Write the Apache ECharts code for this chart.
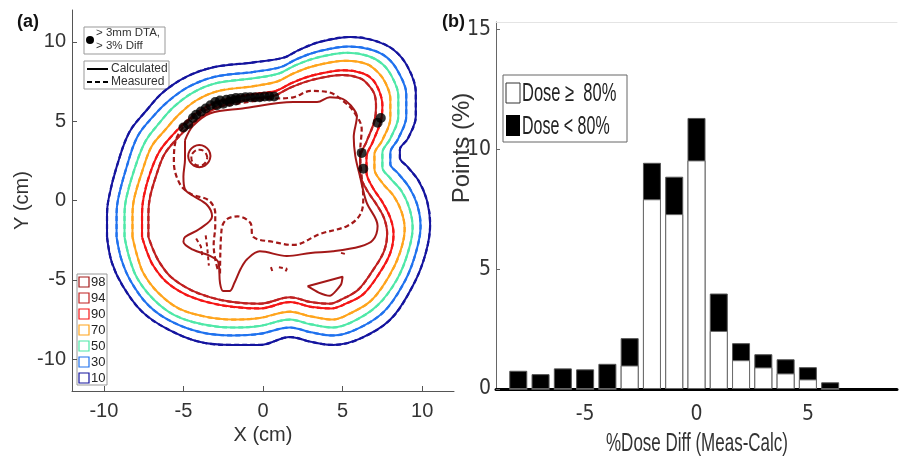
<!DOCTYPE html>
<html>
<head>
<meta charset="utf-8">
<title>Isodose comparison</title>
<script src="https://cdn.jsdelivr.net/npm/echarts@6/dist/echarts.min.js"></script>
<style>
  html, body { margin: 0; padding: 0; background: #fff; }
  #main { width: 899px; height: 460px; }
</style>
</head>
<body>
<div id="main"></div>
<script>
// ---- panel (a): isodose contours, cm ----
var isoLevels = ['98', '94', '90', '70', '50', '30', '10'];
var isoColors = ['#a31818', '#c02020', '#f51616', '#ffa41c', '#4fe8a8', '#2072ee', '#14149e'];

var iso10 = [[-9.8,-2.3],[-9.8,-0.9],[-9.7,0.1],[-9.2,2.1],[-8.4,4.3],[-7.3,5.7],[-6.3,6.8],[-4.8,7.8],[-3.1,8.4],[-0.6,8.7],[1.3,9.0],[2.3,9.5],[3.6,10.0],[5.5,10.3],[6.9,10.1],[8.2,9.5],[9.1,8.4],[9.6,6.8],[9.6,5.3],[9.1,3.9],[8.6,3.2],[8.6,2.7],[9.1,2.1],[9.8,1.2],[10.3,0.0],[10.5,-1.5],[10.2,-3.4],[9.4,-5.4],[8.0,-7.5],[6.1,-8.7],[4.4,-9.1],[3.0,-8.9],[1.7,-8.6],[-0.2,-9.1],[-1.9,-9.1],[-4.0,-8.9],[-6.0,-8.1],[-7.6,-7.0],[-8.8,-5.4],[-9.5,-3.9],[-9.8,-2.3]];
var iso30 = [[-9.2,-2.3],[-9.2,-0.9],[-9.1,0.1],[-8.6,2.0],[-7.9,4.0],[-6.9,5.3],[-5.9,6.3],[-4.6,7.2],[-3.0,7.8],[-0.6,8.1],[1.1,8.4],[2.1,8.9],[3.5,9.4],[5.4,9.7],[6.8,9.5],[7.8,9.0],[8.5,8.1],[9.0,6.7],[9.0,5.3],[8.5,3.9],[8.0,3.0],[8.0,2.3],[8.5,1.7],[9.2,0.8],[9.7,-0.3],[9.9,-1.6],[9.6,-3.3],[8.9,-5.1],[7.6,-7.0],[5.9,-8.1],[4.4,-8.5],[3.0,-8.3],[1.7,-8.0],[-0.2,-8.4],[-1.9,-8.5],[-3.9,-8.3],[-5.8,-7.6],[-7.2,-6.6],[-8.3,-5.1],[-8.9,-3.7],[-9.2,-2.3]];
var iso50 = [[-8.7,-2.3],[-8.7,-0.9],[-8.6,0.1],[-8.1,1.9],[-7.4,3.7],[-6.5,4.9],[-5.6,5.9],[-4.4,6.8],[-2.9,7.4],[-0.6,7.7],[1.0,8.0],[2.0,8.5],[3.4,9.0],[5.3,9.3],[6.6,9.1],[7.5,8.6],[8.1,7.8],[8.5,6.6],[8.5,5.3],[8.0,3.9],[7.5,3.0],[7.5,2.1],[8.0,1.4],[8.7,0.6],[9.2,-0.5],[9.4,-1.7],[9.1,-3.3],[8.4,-5.0],[7.2,-6.6],[5.7,-7.6],[4.4,-8.0],[3.0,-7.8],[1.7,-7.5],[-0.2,-7.9],[-1.9,-8.0],[-3.8,-7.8],[-5.6,-7.2],[-6.9,-6.2],[-7.9,-4.9],[-8.4,-3.6],[-8.7,-2.3]];
var iso70 = [[-8.2,-2.3],[-8.2,-0.9],[-8.1,0.1],[-7.6,1.8],[-7.0,3.4],[-6.1,4.5],[-5.3,5.4],[-4.2,6.3],[-2.8,6.9],[-0.6,7.2],[0.9,7.5],[1.9,8.0],[3.3,8.5],[5.2,8.8],[6.5,8.6],[7.2,8.1],[7.7,7.4],[8.0,6.4],[8.0,5.2],[7.5,3.8],[7.0,2.9],[7.0,2.0],[7.5,1.1],[8.2,0.3],[8.7,-0.7],[8.9,-1.8],[8.6,-3.3],[7.9,-4.8],[6.8,-6.3],[5.5,-7.1],[4.4,-7.5],[3.0,-7.3],[1.7,-7.0],[-0.2,-7.4],[-1.9,-7.5],[-3.7,-7.3],[-5.3,-6.8],[-6.6,-5.8],[-7.5,-4.6],[-7.9,-3.5],[-8.2,-2.3]];
var iso90 = [[-7.6,-2.3],[-7.6,-0.9],[-7.5,0.2],[-7.1,1.7],[-6.5,3.1],[-5.7,4.1],[-4.9,4.9],[-3.9,5.7],[-2.6,6.3],[-0.6,6.7],[0.8,6.9],[1.8,7.4],[3.2,7.9],[5.1,8.2],[6.3,8.0],[6.9,7.6],[7.3,6.9],[7.5,6.0],[7.4,5.0],[6.9,3.7],[6.5,2.7],[6.5,1.8],[6.9,0.8],[7.5,-0.1],[8.0,-1.1],[8.2,-2.1],[8.0,-3.3],[7.3,-4.6],[6.3,-5.9],[5.2,-6.5],[4.3,-6.8],[3.0,-6.7],[1.7,-6.4],[-0.2,-6.8],[-1.9,-6.7],[-3.5,-6.4],[-4.9,-5.9],[-6.1,-5.1],[-6.9,-4.1],[-7.3,-3.2],[-7.6,-2.3]];
var iso94 = [[-7.2,-2.3],[-7.2,-0.9],[-7.1,0.2],[-6.7,1.6],[-6.2,2.9],[-5.4,3.9],[-4.6,4.7],[-3.7,5.4],[-2.5,6.0],[-0.6,6.4],[0.7,6.6],[1.7,7.1],[3.1,7.6],[5.0,7.9],[6.1,7.7],[6.6,7.3],[7.0,6.7],[7.1,5.9],[7.0,5.0],[6.5,3.7],[6.1,2.7],[6.1,1.7],[6.5,0.7],[7.1,-0.2],[7.6,-1.1],[7.8,-2.1],[7.6,-3.2],[6.9,-4.4],[6.0,-5.6],[5.0,-6.2],[4.2,-6.5],[3.0,-6.4],[1.7,-6.1],[-0.2,-6.5],[-1.9,-6.4],[-3.3,-6.1],[-4.6,-5.6],[-5.8,-4.8],[-6.5,-3.9],[-6.9,-3.1],[-7.2,-2.3]];
var iso98 = [[-4.9,3.8],[-4.4,4.7],[-3.3,5.5],[-1.3,5.8],[1.9,6.2],[3.4,6.2],[4.2,6.5],[5.0,6.4],[5.5,6.0],[5.9,5.3],[5.7,4.0],[5.8,2.8],[6.1,1.5],[6.5,-0.1],[7.2,-1.6],[6.9,-2.5],[6.1,-2.9],[4.4,-3.2],[3.0,-3.3],[1.5,-3.5],[-0.2,-3.2],[-1.0,-3.7],[-1.4,-4.3],[-1.8,-5.2],[-2.1,-5.7],[-2.5,-5.7],[-2.7,-5.2],[-2.8,-3.9],[-3.3,-3.5],[-4.4,-3.1],[-5.0,-2.6],[-4.9,-2.3],[-4.0,-1.8],[-3.2,-1.0],[-3.5,-0.3],[-4.4,0.3],[-4.9,0.7],[-5.0,1.5],[-4.9,2.6],[-4.9,3.8]];
var iso98Loop = [[-3.3,2.8],[-3.4,3.15],[-3.65,3.4],[-4.0,3.5],[-4.35,3.4],[-4.6,3.15],[-4.7,2.8],[-4.6,2.45],[-4.35,2.2],[-4.0,2.1],[-3.65,2.2],[-3.4,2.45],[-3.3,2.8]];
var iso98Island = [[2.8,-5.4],[5.0,-4.8],[4.9,-5.3],[4.2,-6.0],[3.5,-5.8],[2.8,-5.4]];
var iso98Meas = [[-2.7,-4.6],[-2.6,-1.8],[-2.3,-1.2],[-1.6,-1.0],[-0.8,-1.4],[-0.6,-2.3],[0.6,-2.6],[1.9,-2.8],[3.6,-2.1],[5.3,-1.6],[6.1,-0.9],[6.3,0.1],[6.2,1.5],[6.1,3.0],[6.2,4.5],[5.7,5.6],[5.0,6.3],[4.2,6.8],[3.0,6.9],[1.9,6.5],[0.4,6.4],[-1.6,6.1],[-3.3,5.8],[-4.3,5.3],[-5.1,4.5],[-5.5,3.7],[-5.6,2.4],[-5.2,1.0],[-4.5,0.4],[-3.4,0.0],[-3.0,-0.8],[-3.0,-1.6],[-3.1,-2.8],[-3.0,-3.7],[-2.8,-4.5]];
var iso98MeasLoop = [[-3.5,2.7],[-3.65,3.05],[-4.0,3.2],[-4.35,3.05],[-4.5,2.7],[-4.35,2.35],[-4.0,2.2],[-3.65,2.35],[-3.5,2.7]];
var iso98MeasBits = [[[0.5,-4.2],[0.6,-4.5]], [[1.0,-4.2],[1.5,-4.3],[1.4,-4.5]], [[4.9,-3.3],[5.3,-3.4]], [[-4.2,-2.4],[-3.9,-2.9],[-3.8,-3.6]], [[-3.6,-2.2],[-3.5,-3.0],[-3.4,-4.1]]];
var failPoints = [[-5.0,4.6],[-4.7,4.8],[-4.4,5.2],[-4.2,5.4],[-3.9,5.6],[-3.6,5.8],[-3.3,6.0],[-3.0,6.2],[-2.9,6.0],[-2.7,6.3],[-2.5,6.1],[-2.3,6.35],[-2.1,6.2],[-2.0,6.4],[-1.7,6.45],[-1.7,6.3],[-1.4,6.45],[-1.1,6.5],[-0.8,6.5],[-0.5,6.5],[-0.2,6.5],[0.1,6.55],[0.4,6.55],[0.7,6.55],[7.4,5.2],[7.2,4.9],[6.2,3.0],[6.3,2.0]];
var xTicksA = [-10, -5, 0, 5, 10];
var yTicksA = [-10, -5, 0, 5, 10];

// ---- panel (b): histogram of dose difference ----
var binCenters = [-8, -7, -6, -5, -4, -3, -2, -1, 0, 1, 2, 3, 4, 5, 6];
var doseHigh = [0, 0, 0, 0, 0, 0.98, 7.91, 7.29, 9.53, 2.42, 1.20, 0.90, 0.65, 0.40, 0];
var doseLow = [0.76, 0.62, 0.86, 0.82, 1.05, 1.14, 1.52, 1.56, 1.77, 1.56, 0.71, 0.55, 0.59, 0.51, 0.28];
var xTicksB = [-5, 0, 5];
var yTicksB = [0, 5, 10, 15];

var sans = "'Liberation Sans', Arial, sans-serif";
var narrow = "'Liberation Sans Narrow', 'DejaVu Sans Condensed', sans-serif";

var calcContours = [iso98, iso94, iso90, iso70, iso50, iso30, iso10];
// measured curves overlay the calculated ones for the outer levels
var measContours = [iso98Meas, iso94, iso90, iso70, iso50, iso30, iso10];

var series = [];
for (var i = calcContours.length - 1; i >= 0; i--) {
    series.push({
        type: 'line', xAxisIndex: 0, yAxisIndex: 0,
        data: calcContours[i], showSymbol: false, smooth: 0.35,
        lineStyle: { color: isoColors[i], width: 2 }
    });
    series.push({
        type: 'line', xAxisIndex: 0, yAxisIndex: 0,
        data: measContours[i], showSymbol: false, smooth: 0.35,
        lineStyle: { color: isoColors[i], width: 2.2, type: [5, 3] }
    });
}
series.push({
    type: 'line', xAxisIndex: 0, yAxisIndex: 0, data: iso98Loop,
    showSymbol: false, smooth: 0.5, lineStyle: { color: isoColors[0], width: 2 }
});
series.push({
    type: 'line', xAxisIndex: 0, yAxisIndex: 0, data: iso98MeasLoop,
    showSymbol: false, smooth: 0.5, lineStyle: { color: isoColors[0], width: 2, type: [5, 3] }
});
iso98MeasBits.forEach(function (bit) {
    series.push({
        type: 'line', xAxisIndex: 0, yAxisIndex: 0, data: bit,
        showSymbol: false, lineStyle: { color: isoColors[0], width: 2, type: [4, 3] }
    });
});
series.push({
    type: 'line', xAxisIndex: 0, yAxisIndex: 0, data: iso98Island,
    showSymbol: false, smooth: 0.2, lineStyle: { color: isoColors[0], width: 2 }
});
series.push({
    type: 'scatter', xAxisIndex: 0, yAxisIndex: 0, data: failPoints,
    symbolSize: 10, itemStyle: { color: '#000' }, z: 5
});
// full bar height (both dose groups) in black, the >= 80% part drawn over it in white
series.push({
    type: 'bar', xAxisIndex: 1, yAxisIndex: 1, barWidth: 18, barGap: '-100%',
    data: binCenters.map(function (x, i) { return [x, doseHigh[i] + doseLow[i]]; }),
    itemStyle: { color: '#000', borderColor: '#555', borderWidth: 1 }, z: 2
});
series.push({
    type: 'bar', xAxisIndex: 1, yAxisIndex: 1, barWidth: 18, barGap: '-100%',
    data: binCenters.map(function (x, i) { return [x, doseHigh[i]]; }),
    itemStyle: { color: '#fff', borderColor: '#6a6a6a', borderWidth: 1 }, z: 3
});

// legend pieces (drawn as graphics, like the MATLAB boxes)
var graphics = [
    { type: 'text', x: 17, y: 22, style: { text: '(a)', font: 'bold 18px ' + sans, fill: '#111', textVerticalAlign: 'middle' } },
    { type: 'text', x: 442, y: 22, style: { text: '(b)', font: 'bold 18px ' + sans, fill: '#111', textVerticalAlign: 'middle' } },
    { type: 'rect', shape: { x: 84, y: 27, width: 81, height: 27 }, style: { fill: '#fff', stroke: '#999', lineWidth: 1 } },
    { type: 'circle', shape: { cx: 90, cy: 40, r: 4 }, style: { fill: '#000' } },
    { type: 'text', x: 96, y: 33, style: { text: '> 3mm DTA,', font: '11.5px ' + sans, fill: '#333', textVerticalAlign: 'middle' } },
    { type: 'text', x: 96, y: 46, style: { text: '> 3% Diff', font: '11.5px ' + sans, fill: '#333', textVerticalAlign: 'middle' } },
    { type: 'rect', shape: { x: 84, y: 61, width: 85, height: 28 }, style: { fill: '#fff', stroke: '#999', lineWidth: 1 } },
    { type: 'line', shape: { x1: 87, y1: 69, x2: 108, y2: 69 }, style: { stroke: '#000', lineWidth: 2 } },
    { type: 'line', shape: { x1: 87, y1: 82, x2: 108, y2: 82 }, style: { stroke: '#000', lineWidth: 2, lineDash: [5, 3] } },
    { type: 'text', x: 111, y: 69, style: { text: 'Calculated', font: '12px ' + sans, fill: '#333', textVerticalAlign: 'middle' } },
    { type: 'text', x: 111, y: 82, style: { text: 'Measured', font: '12px ' + sans, fill: '#333', textVerticalAlign: 'middle' } },
    { type: 'rect', shape: { x: 77, y: 274, width: 30, height: 111 }, style: { fill: '#fff', stroke: '#999', lineWidth: 1 } },
    { type: 'rect', shape: { x: 503, y: 75, width: 124, height: 67 }, style: { fill: '#fff', stroke: '#666', lineWidth: 1 } },
    { type: 'rect', shape: { x: 506, y: 83, width: 14, height: 20 }, style: { fill: '#fff', stroke: '#333', lineWidth: 1 } },
    { type: 'rect', shape: { x: 506, y: 115, width: 14, height: 21 }, style: { fill: '#000' } },
    { type: 'text', x: 522, y: 94, scaleX: 0.66, style: { text: 'Dose \u2265  80%', font: '25px ' + sans, fill: '#222', textVerticalAlign: 'middle' } },
    { type: 'text', x: 522, y: 127, scaleX: 0.64, style: { text: 'Dose < 80%', font: '25px ' + sans, fill: '#222', textVerticalAlign: 'middle' } },
    { type: 'text', x: 697, y: 444, scaleX: 0.68, style: { text: '%Dose Diff (Meas-Calc)', font: '25px ' + sans, fill: '#333', textAlign: 'center', textVerticalAlign: 'middle' } },
    { type: 'text', x: 462, y: 148, rotation: Math.PI / 2, style: { text: 'Points (%)', font: '24px ' + sans, fill: '#333', textAlign: 'center', textVerticalAlign: 'middle' } }
];
isoLevels.forEach(function (lv, i) {
    graphics.push({ type: 'rect', shape: { x: 79, y: 277 + 16 * i, width: 10, height: 10 }, style: { fill: 'none', stroke: isoColors[i], lineWidth: 1.2 } });
    graphics.push({ type: 'text', x: 91, y: 282.5 + 16 * i, style: { text: lv, font: '13px ' + sans, fill: '#222', textVerticalAlign: 'middle' } });
});

var option = {
    animation: false,
    backgroundColor: '#fff',
    grid: [
        { left: 72, top: 10, width: 382, height: 381 },
        { left: 496, top: 22, width: 401, height: 367 }
    ],
    xAxis: [{
        type: 'value', gridIndex: 0, min: -12, max: 12,
        name: 'X (cm)', nameLocation: 'middle', nameGap: 32,
        nameTextStyle: { fontSize: 20, color: '#333', fontFamily: sans },
        axisLine: { onZero: false, lineStyle: { color: '#555', width: 1 } },
        axisTick: { inside: true, length: 5, customValues: xTicksA, lineStyle: { color: '#555' } },
        axisLabel: { customValues: xTicksA, fontSize: 20, color: '#333', margin: 10, fontFamily: sans },
        splitLine: { show: false }
    }, {
        type: 'value', gridIndex: 1, min: -9, max: 9,
        axisLine: { onZero: false, lineStyle: { color: '#000', width: 3 } },
        axisTick: { inside: true, length: 5, customValues: xTicksB, lineStyle: { color: '#888' } },
        axisLabel: { customValues: xTicksB, fontSize: 21, color: '#333', margin: 15, fontFamily: narrow },
        splitLine: { show: false }
    }, {
        type: 'value', gridIndex: 1, min: -9, max: 9, position: 'top',
        axisLine: { onZero: false, lineStyle: { color: '#e4e4e4', width: 1 } },
        axisTick: { show: false }, axisLabel: { show: false }, splitLine: { show: false }
    }],
    yAxis: [{
        type: 'value', gridIndex: 0, min: -12, max: 12,
        name: 'Y (cm)', nameLocation: 'middle', nameGap: 40,
        nameTextStyle: { fontSize: 20, color: '#333', fontFamily: sans },
        axisLine: { onZero: false, lineStyle: { color: '#555', width: 1 } },
        axisTick: { inside: true, length: 5, customValues: yTicksA, lineStyle: { color: '#555' } },
        axisLabel: { customValues: yTicksA, fontSize: 20, color: '#333', margin: 6, fontFamily: sans },
        splitLine: { show: false }
    }, {
        type: 'value', gridIndex: 1, min: 0, max: 15.3,
        axisLine: { show: true, onZero: false, lineStyle: { color: '#666', width: 1 } },
        axisTick: { show: true, inside: true, length: 4, customValues: yTicksB, lineStyle: { color: '#666' } },
        axisLabel: { customValues: yTicksB, fontSize: 21, color: '#333', margin: 5, fontFamily: narrow },
        splitLine: { show: false }
    }],
    graphic: graphics,
    series: series
};

var myChart = echarts.init(document.getElementById('main'), null, { renderer: 'canvas' });
myChart.setOption(option);
</script>
</body>
</html>
